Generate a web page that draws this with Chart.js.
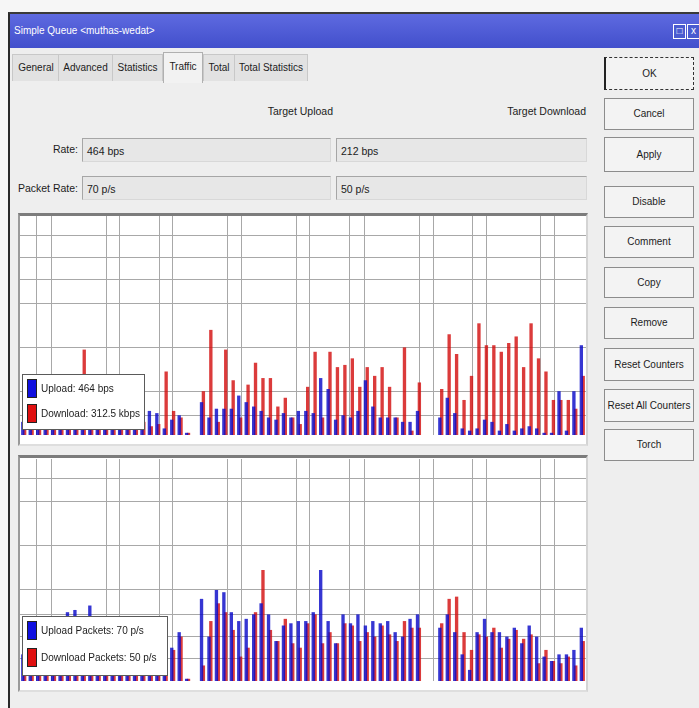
<!DOCTYPE html>
<html>
<head>
<meta charset="utf-8">
<script src="https://cdn.jsdelivr.net/npm/chart.js@4.4.0/dist/chart.umd.min.js"></script>
<style>
  body { margin: 0; width: 699px; height: 708px; background: #f6f6f6; position: relative; overflow: hidden;
         font-family: "Liberation Sans", Arial, sans-serif; font-size: 11px; color: #1c1c1c; }
  .abs { position: absolute; }
  .win { left: 8px; top: 12px; width: 700px; height: 700px; background: #eeeeee; border-left: 2px solid #2a2a2a; border-top: 2px solid #3a3a3a; }
  .titlebar { left: 10px; top: 14px; width: 689px; height: 34px; background: linear-gradient(#5e6ae0, #424fcc); color: #fff; }
  .titlebar span { position: absolute; left: 4px; top: 11px; font-size: 10px; }
  .winbtn { top: 24px; width: 11px; height: 13px; border: 1px solid #fff; background: #4a5bd0; color: #fff; font-size: 10px; line-height: 12px; text-align: center; }
  .tab { top: 54px; height: 26px; line-height: 26px; text-align: center; background: #e2e2e2; border: 1px solid #c8c8c8; border-bottom: none; font-size: 10px; }
  .tab.on { background: #f2f2f2; top: 52px; height: 30px; line-height: 28px; border-color: #b0b0b0; }
  .lbl { text-align: right; font-size: 10.5px; }
  .field { height: 24px; line-height: 24px; background: #e7e7e7; border: 1px solid #a6a6a6; border-bottom-color: #d8d8d8; border-right-color: #d8d8d8; padding-left: 4px; box-sizing: border-box; font-size: 10.5px; }
  .btn { left: 604px; width: 90px; background: #f3f3f3; border: 1px solid #8c8c8c; box-sizing: border-box; text-align: center; font-size: 10px; white-space: nowrap; }
  .frame { left: 18px; width: 570px; background: #fff; border-top: 3px solid #7c7c7c; border-left: 2px solid #9a9a9a;
           border-right: 2px solid #d4d4d4; border-bottom: 2px solid #dedede; box-sizing: border-box; }
  canvas { position: absolute; }
</style>
</head>
<body>
<div class="abs win"></div>
<div class="abs titlebar"><span>Simple Queue &lt;muthas-wedat&gt;</span></div>
<div class="abs winbtn" style="left:673px">□</div>
<div class="abs winbtn" style="left:687px">x</div>

<div class="abs tab" style="left:12px;width:46px">General</div>
<div class="abs tab" style="left:58px;width:53px">Advanced</div>
<div class="abs tab" style="left:112px;width:49px">Statistics</div>
<div class="abs tab on" style="left:163px;width:38px">Traffic</div>
<div class="abs tab" style="left:203px;width:30px">Total</div>
<div class="abs tab" style="left:234px;width:72px">Total Statistics</div>

<div class="abs lbl" style="left:230px;top:105px;width:103px">Target Upload</div>
<div class="abs lbl" style="left:470px;top:105px;width:116px">Target Download</div>

<div class="abs lbl" style="left:0;top:143px;width:78px">Rate:</div>
<div class="abs field" style="left:82px;top:138px;width:249px">464 bps</div>
<div class="abs field" style="left:336px;top:138px;width:251px">212 bps</div>

<div class="abs lbl" style="left:0;top:182px;width:78px">Packet Rate:</div>
<div class="abs field" style="left:82px;top:176px;width:249px">70 p/s</div>
<div class="abs field" style="left:336px;top:176px;width:251px">50 p/s</div>

<div class="abs btn" style="top:57px;height:33px;line-height:31px;border:1px dashed #333;border-left:2px solid #222">OK</div>
<div class="abs btn" style="top:98px;height:32px;line-height:30px">Cancel</div>
<div class="abs btn" style="top:137px;height:35px;line-height:33px">Apply</div>
<div class="abs btn" style="top:186px;height:32px;line-height:30px">Disable</div>
<div class="abs btn" style="top:226px;height:32px;line-height:30px">Comment</div>
<div class="abs btn" style="top:267px;height:31px;line-height:29px">Copy</div>
<div class="abs btn" style="top:307px;height:32px;line-height:30px">Remove</div>
<div class="abs btn" style="top:348px;height:33px;line-height:31px">Reset Counters</div>
<div class="abs btn" style="top:389px;height:33px;line-height:31px">Reset All Counters</div>
<div class="abs btn" style="top:429px;height:32px;line-height:30px">Torch</div>

<div class="abs frame" style="top:213px;height:233px"></div>
<canvas id="rateChart" width="566" height="227" style="left:20px;top:216px"></canvas>
<div class="abs frame" style="top:455px;height:237px"></div>
<canvas id="packetChart" width="566" height="230" style="left:20px;top:459px"></canvas>

<script>
// traffic samples (percent of graph height), oldest on the left
const uploadRate = [6, 8, 5, 9, 7, 10, 6, 8, 9, 7, 5, 8, 10, 6, 9, 7, 10, 11, 10, 3,
    7, 9, 1, 0, 15, 8, 12, 12, 12, 18, 15, 13, 11, 8, 7, 10, 8, 11, 11, 10,
    26, 21, 7, 9, 8, 11, 25, 13, 8, 8, 8, 6, 6, 11, 0, 0, 8, 17, 10, 3,
    2, 3, 7, 6, 2, 5, 2, 3, 4, 3, 1, 1, 20, 2, 20, 41];
const downloadRate = [3, 4, 6, 3, 5, 4, 8, 5, 39, 4, 6, 3, 5, 4, 7, 5, 6, 4, 5, 29,
    11, 8, 1, 0, 20, 48, 6, 39, 25, 8, 23, 33, 26, 26, 13, 17, 8, 5, 22, 38,
    8, 38, 31, 32, 35, 22, 31, 27, 31, 22, 8, 40, 2, 24, 0, 0, 21, 46, 37, 16,
    27, 51, 41, 41, 38, 42, 45, 31, 51, 35, 29, 16, 16, 16, 12, 27];

const uploadPackets = [12, 15, 10, 14, 11, 16, 31, 32, 13, 34, 12, 10, 14, 9, 15, 12, 16, 13, 18, 14,
    15, 22, 1, 0, 37, 20, 41, 40, 31, 27, 28, 30, 35, 30, 18, 25, 26, 27, 27, 31,
    50, 27, 17, 30, 26, 30, 25, 27, 26, 27, 22, 20, 28, 30, 0, 0, 24, 30, 22, 12,
    5, 22, 28, 22, 22, 20, 24, 17, 25, 20, 11, 9, 12, 12, 14, 24];
const downloadPackets = [10, 8, 12, 9, 13, 10, 12, 14, 9, 11, 15, 8, 12, 11, 10, 13, 11, 14, 12, 16,
    14, 20, 1, 0, 7, 27, 35, 31, 23, 11, 15, 31, 50, 23, 18, 28, 17, 15, 26, 30,
    17, 22, 17, 26, 25, 18, 22, 20, 25, 21, 18, 27, 24, 24, 0, 0, 26, 37, 38, 22,
    14, 21, 20, 24, 15, 19, 23, 19, 21, 8, 14, 9, 8, 11, 7, 18];

// grid line positions
const vGrid = [3.0, 5.5, 15.2, 17.5, 24.7, 27.0, 36.7, 39.2, 48.8, 51.2, 58.3, 60.8, 70.5, 73.0, 80.0, 82.5, 92.0, 94.5];
const rateGrid = [9, 20, 40, 60, 71, 81, 91];
const packetGrid = [10, 20, 30, 41, 61, 81, 91];

const samples = uploadRate.map((v, i) => i);

const boxLegend = {
    id: 'boxLegend',
    afterDatasetsDraw(chart, args, opts) {
        const ctx = chart.ctx;
        const area = chart.chartArea;
        const x = area.left + 2;
        const y = area.bottom - 5 - opts.height;
        ctx.save();
        ctx.fillStyle = '#ffffff';
        ctx.fillRect(x, y, opts.width, opts.height);
        ctx.strokeStyle = '#5a5a5a';
        ctx.lineWidth = 1;
        ctx.strokeRect(x + 0.5, y + 0.5, opts.width - 1, opts.height - 1);
        ctx.font = '10px "Liberation Sans", Arial, sans-serif';
        ctx.textBaseline = 'middle';
        chart.data.datasets.forEach((ds, i) => {
            const ry = y + 5 + i * opts.step;
            ctx.fillStyle = ds.swatch;
            ctx.fillRect(x + 5, ry, 10, 19);
            ctx.strokeStyle = '#222';
            ctx.strokeRect(x + 5.5, ry + 0.5, 9, 18);
            ctx.fillStyle = '#1c1c1c';
            ctx.fillText(ds.label, x + 19, ry + 10);
        });
        ctx.restore();
    }
};

function makeGraph(canvasId, up, down, labels, hGrid, legendSize) {
    new Chart(document.getElementById(canvasId), {
        type: 'bar',
        data: {
            labels: samples,
            datasets: [
                {
                    label: labels[0],
                    data: up,
                    backgroundColor: 'rgba(10, 10, 200, 0.82)',
                    swatch: '#1010e0',
                    categoryPercentage: 0.5,
                    barPercentage: 1.8
                },
                {
                    label: labels[1],
                    data: down,
                    backgroundColor: 'rgba(210, 10, 10, 0.8)',
                    swatch: '#e01010',
                    categoryPercentage: 0.5,
                    barPercentage: 1.8
                }
            ]
        },
        options: {
            responsive: false,
            animation: false,
            layout: { padding: 0 },
            plugins: {
                legend: { display: false },
                tooltip: { enabled: false },
                boxLegend: legendSize
            },
            scales: {
                x: {
                    grid: { display: false },
                    border: { display: false },
                    ticks: { display: false, padding: 0 }
                },
                xg: {
                    type: 'linear',
                    position: 'bottom',
                    min: 0,
                    max: 100,
                    offset: false,
                    afterBuildTicks: scale => { scale.ticks = vGrid.map(v => ({ value: v })); },
                    grid: { color: '#a8a8a8', drawTicks: false, offset: false },
                    border: { display: false },
                    ticks: { display: false, padding: 0 }
                },
                y: {
                    min: 0,
                    max: 100,
                    afterBuildTicks: scale => { scale.ticks = hGrid.map(v => ({ value: v })); },
                    grid: { color: '#a8a8a8', drawTicks: false },
                    border: { display: false },
                    ticks: { display: false, padding: 0 }
                }
            }
        },
        plugins: [boxLegend]
    });
}

makeGraph('rateChart', uploadRate, downloadRate,
    ['Upload: 464 bps', 'Download: 312.5 kbps'], rateGrid,
    { width: 123, height: 56, step: 25 });
makeGraph('packetChart', uploadPackets, downloadPackets,
    ['Upload Packets: 70 p/s', 'Download Packets: 50 p/s'], packetGrid,
    { width: 146, height: 60, step: 27 });
</script>
</body>
</html>
